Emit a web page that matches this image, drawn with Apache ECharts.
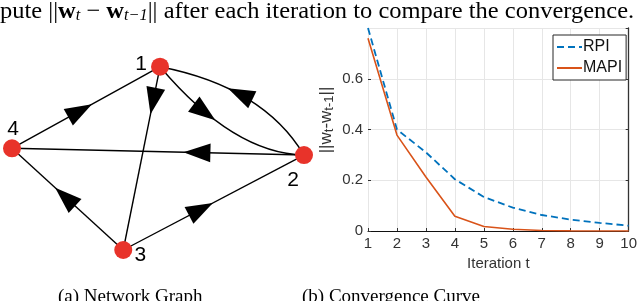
<!DOCTYPE html>
<html><head><meta charset="utf-8">
<script src="https://cdn.jsdelivr.net/npm/echarts@6/dist/echarts.min.js"></script>
<style>html,body{margin:0;padding:0;background:#fff}#c{width:640px;height:301px}</style>
</head><body><div id="c"></div>
<script>
// ---- Convergence curve data ----
const iterations = [1, 2, 3, 4, 5, 6, 7, 8, 9, 10];
const rpiValues = [0.80, 0.40, 0.31, 0.204, 0.134, 0.092, 0.063, 0.045, 0.032, 0.021];
const mapiValues = [0.76, 0.378, 0.213, 0.058, 0.018, 0.007, 0.002, 0.0005, 0.0002, 0.0001];

// ---- Network graph data ----
const nodeNames = ['1', '2', '3', '4'];
const nodeX = [0.507, 1.0, 0.381, 0.0];
const nodeY = [1.0, 0.518, 0.0, 0.555];
// edges: [from, to, curvature, shift, arrowPosition]
const edges = [
  [3, 0, 0, 0, 0.54],
  [0, 2, 0, 0, 0.26],
  [0, 1, 0.21, 0.138, 0.38],
  [1, 0, 0.218, -0.0834, 0.63],
  [1, 3, 0, 0, 0.413],
  [2, 1, 0, 0, 0.496],
  [2, 3, 0, 0, 0.612]
];

const labelOffsets = [[-19, -2], [-11, 25], [17, 5], [1, -19]];

const chart = echarts.init(document.getElementById('c'));
const sans = 'Liberation Sans, Arial, Helvetica, sans-serif';
const serif = 'Liberation Serif, Times New Roman, serif';

function renderEdge(params, api) {
  const e = edges[params.dataIndex];
  const p0 = api.coord([nodeX[e[0]], nodeY[e[0]]]);
  const p2 = api.coord([nodeX[e[1]], nodeY[e[1]]]);
  const dx = p2[0] - p0[0], dy = p2[1] - p0[1];
  const c = e[2], s = e[3], t = e[4], u = 1 - t;
  const mid = [(p0[0] + p2[0]) / 2, (p0[1] + p2[1]) / 2];
  const cp = [mid[0] - dy * c + dx * s, mid[1] + dx * c + dy * s];
  const tip = [u * u * p0[0] + 2 * u * t * cp[0] + t * t * p2[0],
               u * u * p0[1] + 2 * u * t * cp[1] + t * t * p2[1]];
  let tx = 2 * u * (cp[0] - p0[0]) + 2 * t * (p2[0] - cp[0]);
  let ty = 2 * u * (cp[1] - p0[1]) + 2 * t * (p2[1] - cp[1]);
  const len = Math.sqrt(tx * tx + ty * ty); tx /= len; ty /= len;
  const L = 27, W = 9.5;
  const base = [tip[0] - tx * L, tip[1] - ty * L];
  const nx = -ty, ny = tx;
  return {
    type: 'group',
    children: [
      { type: 'bezierCurve', shape: { x1: p0[0], y1: p0[1], x2: p2[0], y2: p2[1], cpx1: cp[0], cpy1: cp[1] },
        style: { stroke: '#000', lineWidth: 1.4, fill: null } },
      { type: 'polygon', shape: { points: [tip, [base[0] + nx * W, base[1] + ny * W], [base[0] - nx * W, base[1] - ny * W]] },
        style: { fill: '#000', stroke: null } }
    ]
  };
}

const option = {
  animation: false,
  backgroundColor: '#fff',
  grid: [
    { left: 368, right: 9, top: 28, bottom: 70, containLabel: false },
    { left: 12, top: 66.7, width: 292, height: 183.3 }
  ],
  xAxis: [
    { gridIndex: 0, type: 'value', min: 1, max: 10, interval: 1,
      name: 'Iteration t', nameLocation: 'middle', nameGap: 25,
      nameTextStyle: { fontFamily: sans, fontSize: 15, color: '#333' },
      axisLine: { show: true, lineStyle: { color: '#111', width: 1 } },
      axisTick: { show: true, inside: true, length: 3, lineStyle: { color: '#333' } },
      axisLabel: { fontFamily: sans, fontSize: 15, color: '#333', margin: 5 },
      splitLine: { show: true, lineStyle: { color: '#e6e6e6', width: 1 } } },
    { gridIndex: 1, type: 'value', min: 0, max: 1, show: false }
  ],
  yAxis: [
    { gridIndex: 0, type: 'value', min: 0, max: 0.8, interval: 0.2,
      axisLine: { show: false },
      axisTick: { show: true, inside: true, length: 3, lineStyle: { color: '#333' } },
      axisLabel: { fontFamily: sans, fontSize: 15, color: '#333', margin: 5, showMaxLabel: false,
        formatter: v => (v === 0 ? '0' : v.toFixed(1)) },
      splitLine: { show: true, lineStyle: { color: '#e6e6e6', width: 1 } } },
    { gridIndex: 0, type: 'value', min: 0, max: 0.8, interval: 0.2, position: 'right',
      axisLine: { show: true, lineStyle: { color: '#333', width: 1.3 } },
      axisTick: { show: true, inside: true, length: 3, lineStyle: { color: '#333' } },
      axisLabel: { show: false }, splitLine: { show: false } },
    { gridIndex: 1, type: 'value', min: 0, max: 1, show: false }
  ],
  legend: {
    left: 553, top: 35, orient: 'vertical',
    padding: [4, 4, 4, 3], itemGap: 5, itemWidth: 25, itemHeight: 16,
    backgroundColor: '#fff', borderColor: '#262626', borderWidth: 1, borderRadius: 0,
    itemStyle: { opacity: 0 },
    textStyle: { fontFamily: sans, fontSize: 16, color: '#111', padding: [0, 0, 0, -4] },
    data: ['RPI', 'MAPI']
  },
  series: [
    { name: 'RPI', type: 'line', xAxisIndex: 0, yAxisIndex: 0, symbol: 'none',
      data: iterations.map((x, i) => [x, rpiValues[i]]),
      lineStyle: { color: '#0072BD', width: 1.8, type: [7, 4] }, itemStyle: { color: '#0072BD' }, z: 3 },
    { name: 'MAPI', type: 'line', xAxisIndex: 0, yAxisIndex: 0, symbol: 'none',
      data: iterations.map((x, i) => [x, mapiValues[i]]),
      lineStyle: { color: '#D95319', width: 1.6 }, itemStyle: { color: '#D95319' }, z: 4 },
    { name: 'edges', type: 'custom', xAxisIndex: 1, yAxisIndex: 2, clip: false,
      renderItem: renderEdge,
      data: edges.map(e => [nodeX[e[0]], nodeY[e[0]]]), z: 2 },
    { name: 'nodes', type: 'scatter', xAxisIndex: 1, yAxisIndex: 2, symbolSize: 18,
      itemStyle: { color: '#E8332A', opacity: 1 },
      data: nodeNames.map((n, i) => ({ value: [nodeX[i], nodeY[i]], name: n,
        label: { show: true, position: 'inside', offset: labelOffsets[i], formatter: n,
          fontFamily: sans, fontSize: 21, color: '#000' } })),
      z: 5 }
  ],
  graphic: [
    { type: 'rect', left: 0, top: 0, shape: { width: 640, height: 27 }, style: { fill: '#fff' }, z: 100 },
    { type: 'text', x: 0, y: -1, scaleX: 1.02, z: 101,
      style: {
        text: 'pute ||{b|w}{s|t} − {b|w}{s|t−1}|| after each iteration to compare the convergence.',
        font: '24px ' + serif, fill: '#000',
        rich: {
          b: { fontFamily: serif, fontSize: 24, fontWeight: 'bold', fill: '#000' },
          s: { fontFamily: serif, fontSize: 16, fontStyle: 'italic', fill: '#000', padding: [9, 0, 0, 0] }
        }
      } },
    { type: 'text', x: 326, y: 120, rotation: Math.PI / 2, z: 101,
      style: {
        text: '||w{s|t}-w{s|t-1}||', align: 'center', verticalAlign: 'middle',
        font: '17px ' + sans, fill: '#333',
        rich: { s: { fontFamily: sans, fontSize: 13, fill: '#333', padding: [7, 0, 0, 0] } }
      } },
    { type: 'text', left: 58, top: 288, z: 101,
      style: { text: '(a) Network Graph', font: '19px ' + serif, fill: '#000' } },
    { type: 'text', left: 302, top: 288, z: 101,
      style: { text: '(b) Convergence Curve', font: '19px ' + serif, fill: '#000' } }
  ]
};
chart.setOption(option);
</script></body></html>
